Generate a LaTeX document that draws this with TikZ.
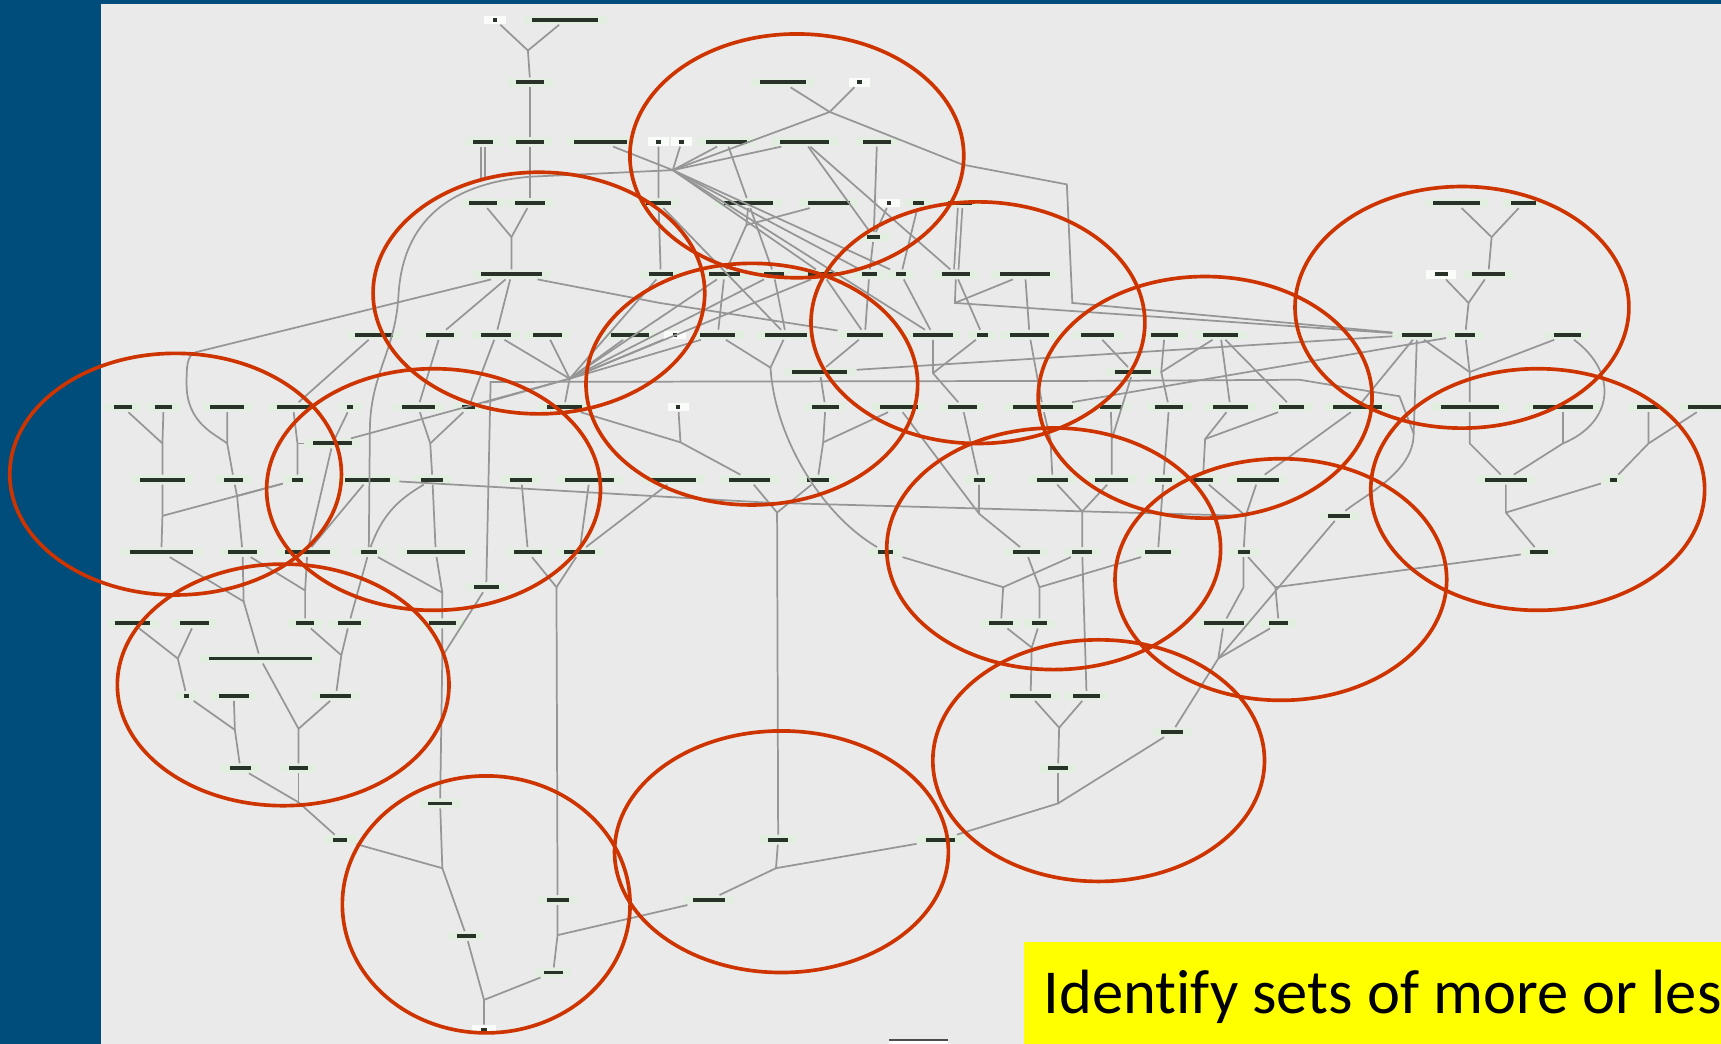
\documentclass[tikz,border=0pt]{standalone}
\usepackage{fontspec}
\usepackage{tikz}
\usetikzlibrary{calc}
\newfontfamily\slidefont[Ligatures=NoCommon]{Carlito}
\definecolor{slideblue}{RGB}{0,76,122}
\definecolor{panel}{RGB}{234,234,234}
\definecolor{halo}{RGB}{226,238,224}
\definecolor{ink}{RGB}{40,50,40}
\definecolor{edgegray}{RGB}{150,150,150}
\definecolor{groupred}{RGB}{205,52,0}
\definecolor{hiyellow}{RGB}{255,255,0}
\newlength{\pxu}
\setlength{\pxu}{0.01cm}
\newcommand{\lbar}[1]{\rule{#1\pxu}{1.0pt}}

\begin{document}
\begin{tikzpicture}[
			x=0.01cm, y=-0.01cm,
			lbl/.style={
					fill=halo,
					text=ink,
					inner xsep=2.2pt, % halo left and right of the label
					inner ysep=0.6pt
				},
			lblw/.style={lbl, fill=white!80!halo},
			ln/.style={draw=edgegray, line width=0.45pt},
			grp/.style={draw=groupred, line width=0.95pt}
		]
		\useasboundingbox (0,0) rectangle (1568,951);
		\fill[slideblue] (0,0) rectangle (1568,951);
		\fill[panel] (92,4) rectangle (1568,951);

		% top of the graph
		\node[lblw] (a1) at (451,18) {\lbar{4}};
		\node[lbl] (a2) at (515,18) {\lbar{60}};
		\node[lbl] (b1) at (483,75) {\lbar{26}};
		\node[lbl] (b2) at (713,75) {\lbar{42}};
		\node[lblw] (b3) at (783,75) {\lbar{4}};
		\node[lbl] (c1) at (440,129) {\lbar{18}};
		\node[lbl] (c2) at (483,129) {\lbar{25}};
		\node[lbl] (c3) at (547,129) {\lbar{48}};
		\node[lblw] (c4) at (600,129) {\lbar{4}};
		\node[lblw] (c5) at (621,129) {\lbar{4}};
		\node[lbl] (c6) at (662,129) {\lbar{38}};
		\node[lbl] (c7) at (733,129) {\lbar{45}};
		\node[lbl] (c8) at (799,129) {\lbar{25}};
		\node[lbl] (d1) at (440,185) {\lbar{25}};
		\node[lbl] (d2) at (483,185) {\lbar{27}};
		\node[lbl] (d3) at (600,185) {\lbar{22}};
		\node[lbl] (d4) at (682,185) {\lbar{45}};
		\node[lbl] (d5) at (755,185) {\lbar{38}};
		\node[lblw] (d6) at (810,185) {\lbar{4}};
		\node[lbl] (d7) at (837,185) {\lbar{10}};
		\node[lbl] (d8) at (875,185) {\lbar{22}};
		\node[lbl] (dx) at (796,216) {\lbar{12}};
		\node[lbl] (e1) at (466,250) {\lbar{55}};
		\node[lbl] (e2) at (602,250) {\lbar{22}};
		\node[lbl] (e3) at (660,250) {\lbar{28}};
		\node[lbl] (e4) at (705,250) {\lbar{18}};
		\node[lbl] (e5) at (750,250) {\lbar{28}};
		\node[lbl] (e6) at (792,250) {\lbar{14}};
		\node[lbl] (e9) at (821,250) {\lbar{9}};
		\node[lbl] (e7) at (871,250) {\lbar{26}};
		\node[lbl] (e8) at (934,250) {\lbar{46}};
		\node[lbl] (r1) at (1327,185) {\lbar{42}};
		\node[lbl] (r2) at (1388,185) {\lbar{22}};
		\node[lblw] (r3) at (1313,250) {\lbar{12}};
		\node[lbl] (r4) at (1356,250) {\lbar{30}};

		% row f
		\node[lbl] (f1) at (341,305) {\lbar{35}};
		\node[lbl] (f2) at (401,305) {\lbar{25}};
		\node[lbl] (f3) at (452,305) {\lbar{28}};
		\node[lbl] (f4) at (499,305) {\lbar{26}};
		\node[lbl] (f5) at (574,305) {\lbar{34}};
		\node[lblw] (f6) at (615,305) {\lbar{4}};
		\node[lbl] (f7) at (654,305) {\lbar{32}};
		\node[lbl] (f8) at (716,305) {\lbar{38}};
		\node[lbl] (f9) at (788,305) {\lbar{33}};
		\node[lbl] (f10) at (850,305) {\lbar{36}};
		\node[lbl] (f11) at (895,305) {\lbar{10}};
		\node[lbl] (f12) at (938,305) {\lbar{36}};
		\node[lbl] (f13) at (1000,305) {\lbar{30}};
		\node[lbl] (f14) at (1061,305) {\lbar{24}};
		\node[lbl] (f15) at (1112,305) {\lbar{32}};
		\node[lbl] (f16) at (1291,305) {\lbar{28}};
		\node[lbl] (f17) at (1335,305) {\lbar{18}};
		\node[lbl] (f18) at (1428,305) {\lbar{25}};
		\node[lbl] (q1) at (747,339) {\lbar{50}};
		\node[lbl] (q2) at (1032,339) {\lbar{33}};
		\node[lbl] (q3) at (303,404) {\lbar{35}};

		% row g
		\node[lbl] (g1) at (112,371) {\lbar{17}};
		\node[lbl] (g2) at (149,371) {\lbar{16}};
		\node[lbl] (g3) at (207,371) {\lbar{31}};
		\node[lbl] (g4) at (267,371) {\lbar{30}};
		\node[lbl] (g5) at (319,371) {\lbar{6}};
		\node[lbl] (g6) at (381,371) {\lbar{30}};
		\node[lbl] (g7) at (427,371) {\lbar{12}};
		\node[lbl] (g8) at (514,371) {\lbar{32}};
		\node[lblw] (g9) at (618,371) {\lbar{4}};
		\node[lbl] (g10) at (752,371) {\lbar{24}};
		\node[lbl] (g11) at (819,371) {\lbar{34}};
		\node[lbl] (g12) at (877,371) {\lbar{26}};
		\node[lbl] (g13) at (950,371) {\lbar{55}};
		\node[lbl] (g14) at (1012,371) {\lbar{20}};
		\node[lbl] (g15) at (1065,371) {\lbar{26}};
		\node[lbl] (g16) at (1121,371) {\lbar{32}};
		\node[lbl] (g17) at (1177,371) {\lbar{23}};
		\node[lbl] (g18) at (1237,371) {\lbar{45}};
		\node[lbl] (g19) at (1339,371) {\lbar{53}};
		\node[lbl] (g20) at (1424,371) {\lbar{54}};
		\node[lbl] (g21) at (1502,371) {\lbar{21}};
		\node[lbl] (g22) at (1553,371) {\lbar{30}};

		% row h
		\node[lbl] (h1) at (148,437) {\lbar{41}};
		\node[lbl] (h2) at (213,437) {\lbar{17}};
		\node[lbl] (h3) at (271,437) {\lbar{10}};
		\node[lbl] (h4) at (335,437) {\lbar{41}};
		\node[lbl] (h5) at (394,437) {\lbar{20}};
		\node[lbl] (h6) at (475,437) {\lbar{20}};
		\node[lbl] (h7) at (537,437) {\lbar{45}};
		\node[lbl] (h8) at (614,437) {\lbar{41}};
		\node[lbl] (h9) at (683,437) {\lbar{37}};
		\node[lbl] (h10) at (745,437) {\lbar{20}};
		\node[lbl] (h11) at (892,437) {\lbar{10}};
		\node[lbl] (h12) at (959,437) {\lbar{28}};
		\node[lbl] (h13) at (1013,437) {\lbar{30}};
		\node[lbl] (h14) at (1060,437) {\lbar{16}};
		\node[lbl] (h15) at (1096,437) {\lbar{18}};
		\node[lbl] (h16) at (1146,437) {\lbar{38}};
		\node[lbl] (h17) at (1372,437) {\lbar{38}};
		\node[lbl] (h18) at (1470,437) {\lbar{6}};
		\node[lbl] (q4) at (1220,470) {\lbar{20}};

		% row i and below
		\node[lbl] (i1) at (147,503) {\lbar{58}};
		\node[lbl] (i2) at (221,503) {\lbar{26}};
		\node[lbl] (i3) at (280,503) {\lbar{41}};
		\node[lbl] (i4) at (336,503) {\lbar{15}};
		\node[lbl] (i5) at (397,503) {\lbar{53}};
		\node[lbl] (i6) at (481,503) {\lbar{25}};
		\node[lbl] (i7) at (528,503) {\lbar{28}};
		\node[lbl] (i8) at (807,503) {\lbar{14}};
		\node[lbl] (i9) at (935,503) {\lbar{25}};
		\node[lbl] (i10) at (986,503) {\lbar{18}};
		\node[lbl] (i11) at (1055,503) {\lbar{23}};
		\node[lbl] (i12) at (1133,503) {\lbar{11}};
		\node[lbl] (i13) at (1402,503) {\lbar{16}};
		\node[lbl] (q5) at (443,535) {\lbar{23}};
		\node[lbl] (j1) at (121,568) {\lbar{32}};
		\node[lbl] (j2) at (177,568) {\lbar{26}};
		\node[lbl] (j3) at (278,568) {\lbar{16}};
		\node[lbl] (j4) at (318,568) {\lbar{21}};
		\node[lbl] (j5) at (403,568) {\lbar{25}};
		\node[lbl] (j6) at (912,568) {\lbar{21}};
		\node[lbl] (j7) at (947,568) {\lbar{13}};
		\node[lbl] (j8) at (1115,568) {\lbar{36}};
		\node[lbl] (j9) at (1165,568) {\lbar{17}};
		\node[lbl] (q6) at (237,600) {\lbar{94}};
		\node[lbl] (k1) at (170,634) {\lbar{5}};
		\node[lbl] (k2) at (213,634) {\lbar{27}};
		\node[lbl] (k3) at (306,634) {\lbar{28}};
		\node[lbl] (k4) at (939,634) {\lbar{38}};
		\node[lbl] (k5) at (990,634) {\lbar{24}};
		\node[lbl] (q7) at (1068,667) {\lbar{20}};
		\node[lbl] (l1) at (219,700) {\lbar{19}};
		\node[lbl] (l2) at (272,700) {\lbar{17}};
		\node[lbl] (l3) at (964,700) {\lbar{18}};
		\node[lbl] (q8) at (401,732) {\lbar{22}};
		\node[lbl] (m1) at (310,765) {\lbar{13}};
		\node[lbl] (m2) at (709,765) {\lbar{18}};
		\node[lbl] (m3) at (857,765) {\lbar{27}};
		\node[lbl] (n1) at (508,820) {\lbar{20}};
		\node[lbl] (n2) at (646,820) {\lbar{30}};
		\node[lbl] (n3) at (425,853) {\lbar{18}};
		\node[lbl] (n4) at (504,886) {\lbar{17}};
		\node[lblw] (n5) at (441,938) {\lbar{6}};

		% junction points
		\coordinate (jA) at (481,46);
		\coordinate (jB) at (613,155);
		\coordinate (jC) at (466,216);
		\coordinate (jD) at (756,102);
		\coordinate (jE) at (680,205);
		\coordinate (jT) at (483,161);
		\coordinate (jS) at (440,164);
		\coordinate (jK1) at (519,345);
		\coordinate (jF1) at (870,276);
		\coordinate (jF2) at (1058,339);
		\coordinate (jF3) at (850,340);
		\coordinate (jP) at (702,335);
		\coordinate (jU1) at (1359,216);
		\coordinate (jU2) at (1338,276);
		\coordinate (jV1) at (1339,339);
		\coordinate (jV2) at (1339,404);
		\coordinate (jV3) at (1424,404);
		\coordinate (jV4) at (1502,404);
		\coordinate (jV5) at (1372,467);
		\coordinate (jW1) at (148,404);
		\coordinate (jW2) at (148,470);
		\coordinate (jW3) at (207,404);
		\coordinate (jW4) at (216,452);
		\coordinate (jW5) at (271,404);
		\coordinate (jW6) at (392,404);
		\coordinate (jW7) at (222,548);
		\coordinate (jW8) at (278,538);
		\coordinate (jW9) at (162,600);
		\coordinate (jW10) at (272,664);
		\coordinate (jW11) at (311,597);
		\coordinate (jW12) at (214,665);
		\coordinate (jW13) at (272,731);
		\coordinate (jW14) at (403,540);
		\coordinate (jW15) at (403,598);
		\coordinate (jW16) at (403,791);
		\coordinate (jW17) at (441,911);
		\coordinate (jW18) at (508,852);
		\coordinate (jW19) at (507,535);
		\coordinate (jW20) at (707,791);
		\coordinate (jW21) at (964,732);
		\coordinate (jW22) at (965,663);
		\coordinate (jQ1) at (750,403);
		\coordinate (jQ2) at (708,467);
		\coordinate (jO) at (620,403);
		\coordinate (jH) at (1013,400);
		\coordinate (jG1) at (957,400);
		\coordinate (jG2) at (1098,400);
		\coordinate (jR1) at (892,468);
		\coordinate (jR2) at (986,466);
		\coordinate (jR3) at (914,535);
		\coordinate (jR4) at (947,535);
		\coordinate (jR5) at (940,590);
		\coordinate (jR6) at (1135,470);
		\coordinate (jR7) at (1133,535);
		\coordinate (jR8) at (1162,535);
		\coordinate (jR9) at (1110,600);
		\coordinate (jL) at (447,348);
		\coordinate (jX) at (1288,395);

		% connectors, top
		\draw[ln] (a1) -- (jA) -- (b1);
		\draw[ln] (a2) -- (jA);
		\draw[ln] (b1) -- (c2) -- (d2);
		\draw[ln, double=panel, double distance=0.7pt] (c1) -- (jS);
		\draw[ln] (d1) -- (jC) -- (e1);
		\draw[ln] (d2) -- (jC);
		\draw[ln] (b2) -- (jD) -- (jB);
		\draw[ln] (b3) -- (jD);
		\draw[ln] (jD) -- (877,150) -- (972,168) -- (977,276) -- (f16);
		\draw[ln] (c3) -- (jB);
		\draw[ln] (c5) -- (jB);
		\draw[ln] (c6) -- (jB);
		\draw[ln] (c7) -- (jB);
		\draw[ln] (c4) -- (d3) -- (e2);
		\draw[ln] (jB) -- (jT) .. controls (400,168) and (366,210) .. (363,270) .. controls (360,320) and (338,340) .. (337,390) -- (i4);
		\draw[ln] (c8) -- (dx);
		\draw[ln] (d6) -- (dx);
		\draw[ln] (c7) -- (dx);
		\draw[ln] (d4) -- (jE) -- (e3);
		\draw[ln] (d5) -- (jE);
		\draw[ln] (c6) -- (d4) -- (e4);
		\draw[ln] (jB) -- (e5);
		\draw[ln] (jB) -- (e6);
		\draw[ln] (jB) -- (e9);
		\draw[ln] (jB) -- (f10);
		\draw[ln] (c7) -- (e7);
		\draw[ln] (d7) -- (e9);
		\draw[ln] (dx) -- (e6);
		\draw[ln, double=panel, double distance=0.7pt] (d8) -- (e7);
		\draw[ln] (d3) -- (f8);

		% rows e to g
		\draw[ln] (e7) -- (jF1) -- (f16);
		\draw[ln] (e8) -- (jF1);
		\draw[ln] (e8) -- (f12);
		\draw[ln] (e2) -- (jK1);
		\draw[ln] (e3) -- (jK1);
		\draw[ln] (e4) -- (jK1);
		\draw[ln] (e5) -- (jK1);
		\draw[ln] (f3) -- (jK1);
		\draw[ln] (f4) -- (jK1);
		\draw[ln] (f5) -- (jK1);
		\draw[ln] (f6) -- (jK1);
		\draw[ln] (f7) -- (jK1);
		\draw[ln] (jK1) -- (g8);
		\draw[ln] (jK1) -- (g7);
		\draw[ln] (jK1) -- (q3);
		\draw[ln] (e1) -- (601,276) -- (f9);
		\draw[ln] (e1) -- (f3);
		\draw[ln] (e1) -- (f2);
		\draw[ln] (e3) -- (f7);
		\draw[ln] (e4) -- (f8);
		\draw[ln] (e5) -- (f9);
		\draw[ln] (e6) -- (f9);
		\draw[ln] (e9) -- (f10);
		\draw[ln] (e7) -- (f11);
		\draw[ln] (f1) -- (g4);
		\draw[ln] (f2) -- (g6);
		\draw[ln] (f3) -- (g7);
		\draw[ln] (f7) -- (jP);
		\draw[ln] (f8) -- (jP);
		\draw[ln] (jP) .. controls (706,400) and (750,470) .. (i8);
		\draw[ln] (f9) -- (q1) -- (g10);
		\draw[ln] (q1) -- (f16);
		\draw[ln] (g10) -- (jQ1) -- (h10);
		\draw[ln] (g11) -- (jQ1);
		\draw[ln] (f10) -- (jF3) -- (g12);
		\draw[ln] (f11) -- (jF3);
		\draw[ln] (f12) -- (g13);
		\draw[ln] (f13) -- (q2);
		\draw[ln] (f14) -- (jF2) -- (g15);
		\draw[ln] (f15) -- (jF2);
		\draw[ln] (f15) -- (g16);
		\draw[ln] (f15) -- (g17);
		\draw[ln] (f16) -- (g18);
		\draw[ln] (g13) -- (f17);
		\draw[ln] (q2) -- (jH) -- (h13);
		\draw[ln] (g14) -- (jH);
		\draw[ln] (g13) -- (jG1) -- (h12);
		\draw[ln] (g16) -- (jG2) -- (h15);
		\draw[ln] (g17) -- (jG2);
		\draw[ln] (g18) -- (h16);
		\draw[ln] (g15) -- (h14);
		\draw[ln] (q5) -- (jL) -- (1000,347) -- (1184,346) -- (1275,361) -- (jX);
		\draw[ln] (f16) -- (jX) .. controls (1288,430) and (1245,450) .. (q4);

		% right side
		\draw[ln] (r1) -- (jU1) -- (r4);
		\draw[ln] (r2) -- (jU1);
		\draw[ln] (r3) -- (jU2) -- (f17);
		\draw[ln] (r4) -- (jU2);
		\draw[ln] (f17) -- (jV1) -- (g19);
		\draw[ln] (f16) -- (jV1);
		\draw[ln] (f18) -- (jV1);
		\draw[ln] (g19) -- (jV2) -- (h17);
		\draw[ln] (g20) -- (jV3) -- (h17);
		\draw[ln] (f18) .. controls (1475,340) and (1470,385) .. (jV3);
		\draw[ln] (g21) -- (jV4) -- (h18);
		\draw[ln] (g22) -- (jV4);
		\draw[ln] (h17) -- (jV5) -- (i13);
		\draw[ln] (h18) -- (jV5);
		\draw[ln] (i13) -- (jR8) -- (j9);
		\draw[ln] (i12) -- (jR7) -- (j8);
		\draw[ln] (i12) -- (jR8);
		\draw[ln] (j8) -- (jR9) -- (q7);
		\draw[ln] (j9) -- (jR9);
		\draw[ln] (q4) -- (jR9);
		\draw[ln] (q7) -- (jW21) -- (m3);
		\draw[ln] (l3) -- (jW21);
		\draw[ln] (h15) -- (jR6) -- (i12);
		\draw[ln] (h16) -- (jR6);
		\draw[ln] (h4) -- (700,458) -- (jR6);
		\draw[ln] (h14) -- (i11);
		\draw[ln] (h12) -- (jR2) -- (i10);
		\draw[ln] (h13) -- (jR2);
		\draw[ln] (g12) -- (h11) -- (jR1) -- (i9);
		\draw[ln] (g11) -- (jR1);
		\draw[ln] (i8) -- (jR3) -- (j6);
		\draw[ln] (i10) -- (jR3);
		\draw[ln] (i9) -- (jR4) -- (j7);
		\draw[ln] (i11) -- (jR4);
		\draw[ln] (j6) -- (jR5) -- (k4);
		\draw[ln] (j7) -- (jR5);
		\draw[ln] (i10) -- (k5);
		\draw[ln] (k4) -- (jW22) -- (l3);
		\draw[ln] (k5) -- (jW22);

		% middle and bottom
		\draw[ln] (m3) -- (jW20) -- (n2) -- (jW18);
		\draw[ln] (m2) -- (jW20);
		\draw[ln] (h9) -- (jQ2) -- (m2);
		\draw[ln] (h10) -- (jQ2);
		\draw[ln] (g8) -- (jO) -- (h9);
		\draw[ln] (g9) -- (jO);
		\draw[ln] (h8) -- (i7);
		\draw[ln] (h7) -- (i7);
		\draw[ln] (h6) -- (i6);
		\draw[ln] (i6) -- (jW19) -- (n1) -- (jW18) -- (n4) -- (jW17);
		\draw[ln] (i7) -- (jW19);

		% left side
		\draw[ln] (g1) -- (jW1) -- (h1);
		\draw[ln] (g2) -- (jW1);
		\draw[ln] (h1) -- (jW2) -- (i1);
		\draw[ln] (h3) -- (jW2);
		\draw[ln] (e1) -- (178,321) .. controls (170,324) and (170,335) .. (170,350) .. controls (170,385) and (195,395) .. (jW3);
		\draw[ln] (g3) -- (jW3) -- (h2);
		\draw[ln] (h2) -- (jW4) -- (i2);
		\draw[ln] (h3) -- (jW4);
		\draw[ln] (g4) -- (jW5) -- (h3);
		\draw[ln] (q3) -- (jW5);
		\draw[ln] (g5) -- (q3) -- (i3);
		\draw[ln] (h4) -- (i3);
		\draw[ln] (g6) -- (jW6) -- (h5);
		\draw[ln] (g7) -- (jW6);
		\draw[ln] (h5) to[out=-150, in=70] (i4);
		\draw[ln] (h5) -- (i5);
		\draw[ln] (i1) -- (jW7) -- (q6);
		\draw[ln] (i2) -- (jW7);
		\draw[ln] (i3) -- (jW8) -- (j3);
		\draw[ln] (i2) -- (jW8);
		\draw[ln] (i4) -- (j4);
		\draw[ln] (i4) -- (jW14) -- (j5);
		\draw[ln] (i5) -- (jW14);
		\draw[ln] (j5) -- (jW15) -- (q8);
		\draw[ln] (q5) -- (jW15);
		\draw[ln] (j1) -- (jW9) -- (k1);
		\draw[ln] (j2) -- (jW9);
		\draw[ln] (j3) -- (jW11) -- (k3);
		\draw[ln] (j4) -- (jW11);
		\draw[ln] (q6) -- (jW10) -- (l2);
		\draw[ln] (k3) -- (jW10);
		\draw[ln] (k1) -- (jW12) -- (l1);
		\draw[ln] (k2) -- (jW12);
		\draw[ln] (l1) -- (jW13) -- (m1);
		\draw[ln] (l2) -- (jW13);
		\draw[ln] (m1) -- (jW16) -- (n3) -- (jW17) -- (n5);
		\draw[ln] (q8) -- (jW16);

		% groups
		\draw[grp] (726,142) ellipse [x radius=1.52cm, y radius=1.11cm];
		\draw[grp] (491,267) ellipse [x radius=1.51cm, y radius=1.10cm];
		\draw[grp] (685,350) ellipse [x radius=1.51cm, y radius=1.10cm];
		\draw[grp] (891,294) ellipse [x radius=1.52cm, y radius=1.10cm];
		\draw[grp] (1098,362) ellipse [x radius=1.52cm, y radius=1.10cm];
		\draw[grp] (1332,280) ellipse [x radius=1.52cm, y radius=1.10cm];
		\draw[grp] (1401,446) ellipse [x radius=1.52cm, y radius=1.10cm];
		\draw[grp] (160,432) ellipse [x radius=1.51cm, y radius=1.10cm];
		\draw[grp] (395,446) ellipse [x radius=1.52cm, y radius=1.10cm];
		\draw[grp] (258,624) ellipse [x radius=1.51cm, y radius=1.10cm];
		\draw[grp] (960,500) ellipse [x radius=1.52cm, y radius=1.10cm];
		\draw[grp] (1167,528) ellipse [x radius=1.51cm, y radius=1.10cm];
		\draw[grp] (1001,693) ellipse [x radius=1.51cm, y radius=1.10cm];
		\draw[grp] (712,776) ellipse [x radius=1.52cm, y radius=1.10cm];
		\draw[grp] (443,824) ellipse [x radius=1.31cm, y radius=1.17cm];

		% caption box, cut at the page edge as in the slide
		\begin{scope}
			\clip (933,858) rectangle (1568,951);
			\fill[hiyellow] (933,858) rectangle (1568,951);
			\node[anchor=base west, inner sep=0pt, font=\slidefont\fontsize{16.2}{20}\selectfont] (caption) at (950,923) {Identify sets of more or les};
		\end{scope}
		\fill[white] (810,947) rectangle (864,951);
		\draw[black!70, line width=0.4pt] (810,947.3) -- (864,947.3);
	\end{tikzpicture}
\end{document}
